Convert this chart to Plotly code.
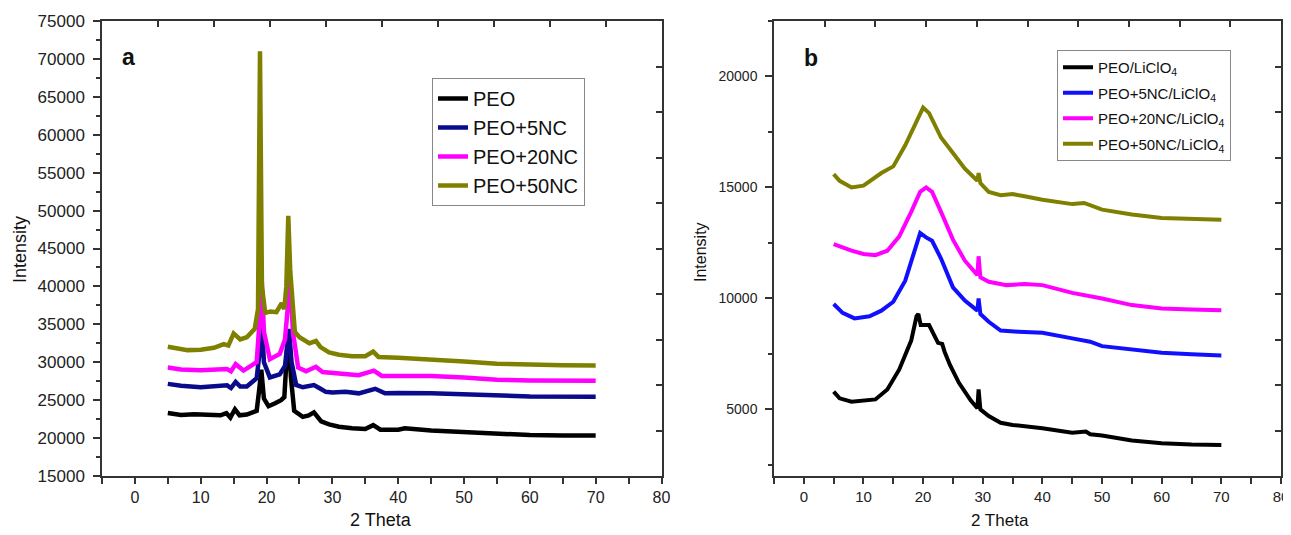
import plotly.graph_objects as go

# ---- panel a : XRD de PEO y nanocompuestos ----
peo_x = [5, 7, 9, 11, 13, 13.9, 14.5, 15.2, 15.9, 17, 18.5, 18.9, 19.2, 19.6, 20.3, 21.3, 22.2, 22.7,
         23.0, 23.3, 23.7, 24.2, 25.5, 26.4, 27.2, 28.3, 29.5, 31, 33, 35, 36.2, 37.3, 40, 41, 45, 50, 55, 60, 65, 70]
peo_y = [23300, 23050, 23150, 23050, 23000, 23300, 22700, 23800, 23000, 23100, 23600, 26500, 29000, 25200, 24200, 24600, 25000, 25400,
         29000, 34300, 28000, 23600, 22800, 23000, 23400, 22200, 21800, 21500, 21300, 21200, 21700, 21100, 21100, 21300, 21000, 20800, 20500, 20400, 20350, 20350]

nc5_x = [5, 7, 10, 13, 14, 14.6, 15.3, 16, 17, 18.5, 18.9, 19.2, 19.6, 20.5, 22, 22.8, 23.1, 23.4, 23.8, 24.5,
         25.5, 27.2, 28.2, 29, 30, 32, 34, 36.5, 38, 40, 45, 50, 55, 60, 70]
nc5_y = [27150, 26900, 26700, 26800, 26950, 26600, 27400, 26800, 26800, 27900, 31000, 36600, 30000, 28000, 28400, 29500, 32000, 34400, 30000, 27000,
         26700, 27000, 26500, 26100, 26000, 26100, 25900, 26500, 25900, 25950, 25900, 25800, 25600, 25500, 25450]

nc20_x = [5, 7, 10, 13, 14, 14.6, 15.3, 16.5, 18.5, 18.9, 19.2, 19.6, 20.5, 22, 22.8, 23.2, 23.6, 24.0, 24.8,
          26, 27.5, 28.5, 30, 32, 34, 36.3, 37.5, 40, 45, 50, 55, 60, 70]
nc20_y = [29300, 29050, 28950, 29000, 29100, 28800, 29750, 28900, 30000, 35000, 42300, 34000, 30400, 31100, 33000, 37000, 40900, 34000, 29300,
          28800, 29400, 28700, 28600, 28400, 28300, 28900, 28200, 28200, 28200, 28000, 27700, 27600, 27550]

nc50_x = [5, 6.5, 8, 10, 12, 13.5, 14.2, 15, 16, 17, 18.2, 18.7, 19.0, 19.3, 19.8, 20.6, 21.5, 22.3, 22.7, 23.0,
          23.3, 23.6, 24.3, 25, 26.5, 27.5, 28.2, 29.5, 31, 33, 35, 36.2, 37, 40, 45, 50, 55, 60, 65, 70]
nc50_y = [32050, 31800, 31600, 31650, 31900, 32400, 32200, 33800, 33000, 33300, 34400, 37000, 71000, 40000, 36500, 36700, 36600, 37800, 37000, 40000,
          49300, 42000, 34000, 33300, 32500, 32800, 32000, 31300, 31000, 30800, 30800, 31400, 30700, 30600, 30400, 30100, 29800, 29650, 29600, 29580]

# ---- panel b : con LiClO4 ----
li_x = [5, 6, 8, 10, 12, 14, 16, 18, 18.9, 19.2, 19.6, 21, 22.5, 23.2, 23.6, 24.5, 26, 28, 29.1, 29.3, 29.6,
        31, 33, 35, 40, 45, 47.3, 48, 50, 55, 60, 65, 70]
li_y = [5800, 5500, 5350, 5400, 5450, 5900, 6800, 8100, 9200, 9300, 8800, 8800, 8000, 7950, 7600, 7000, 6200, 5400, 5050, 5900, 5000,
        4700, 4400, 4300, 4150, 3950, 4000, 3880, 3820, 3600, 3480, 3420, 3400]

li5_x = [5, 6.5, 8.5, 11, 13, 15, 17, 18.5, 19.5, 20.5, 21.5, 23, 25, 27, 29.1, 29.3, 29.6, 31, 33, 36, 40, 45, 48, 50, 55, 60, 65, 70]
li5_y = [9750, 9350, 9100, 9200, 9450, 9850, 10800, 12100, 12950, 12750, 12600, 11800, 10500, 9900, 9450, 10000, 9300, 8950, 8550, 8500, 8450, 8200, 8050, 7850, 7700, 7550, 7480, 7430]

li20_x = [5, 8, 10, 12, 14, 16, 18, 19.5, 20.5, 21.5, 23, 25, 27, 29.1, 29.3, 29.6, 31, 34, 37, 40, 45, 50, 55, 60, 65, 70]
li20_y = [12450, 12150, 12000, 11950, 12150, 12800, 13900, 14800, 15000, 14800, 13900, 12650, 11700, 11050, 11900, 10950, 10750, 10600, 10650, 10600, 10250, 10000, 9700, 9550, 9500, 9470]

li50_x = [5, 6, 8, 10, 13, 15, 17, 19, 20, 21, 23, 25, 27, 29.1, 29.3, 29.6, 31, 33, 35, 37, 40, 45, 47, 50, 55, 60, 65, 70]
li50_y = [15600, 15300, 15000, 15080, 15650, 15950, 16900, 18100, 18600, 18350, 17250, 16550, 15850, 15300, 15650, 15200, 14800, 14650, 14700, 14600, 14450, 14250, 14300, 14000, 13780, 13620, 13570, 13550]

labels_a = ["PEO", "PEO+5NC", "PEO+20NC", "PEO+50NC"]
colors_a = ["#000000", "#0a0a8c", "#ff00ff", "#808000"]
labels_b = ["PEO/LiClO<sub>4</sub>", "PEO+5NC/LiClO<sub>4</sub>", "PEO+20NC/LiClO<sub>4</sub>", "PEO+50NC/LiClO<sub>4</sub>"]
colors_b = ["#000000", "#1010ff", "#ff00ff", "#808000"]

# ticks del eje x: cada 5, etiqueta sólo cada 10
x_ticks = list(range(-5, 81, 5))
x_text = [str(v) if v % 10 == 0 else "" for v in x_ticks]

FONT = "Liberation Sans, Arial, sans-serif"
AX = "#333333"

# la página html deja ~8 px de margen: se trabaja en coordenadas de la captura menos ese margen
OFF = 8
W, H = 1291 - OFF, 535 - OFF

def px(x):
    return (x - OFF) / W

def py(y):
    return 1 - (y - OFF) / H

fig = go.Figure()

series_a = [(peo_x, peo_y), (nc5_x, nc5_y), (nc20_x, nc20_y), (nc50_x, nc50_y)]
for i, ((xs, ys), name, col) in enumerate(zip(series_a, labels_a, colors_a)):
    fig.add_trace(go.Scatter(x=xs, y=ys, mode="lines", name=name, line=dict(color=col, width=4.5),
                             xaxis="x", yaxis="y", legend="legend", legendgroup="a%d" % i))

series_b = [(li_x, li_y), (li5_x, li5_y), (li20_x, li20_y), (li50_x, li50_y)]
for i, ((xs, ys), name, col) in enumerate(zip(series_b, labels_b, colors_b)):
    fig.add_trace(go.Scatter(x=xs, y=ys, mode="lines", name=name, line=dict(color=col, width=4),
                             xaxis="x2", yaxis="y2", legend="legend2", legendgroup="b%d" % i))

# trazas auxiliares (blancas, en zona vacía) para los ejes de ticks interiores (arriba / derecha)
dummy = [("x3", "y", [9.4, 9.6], [72000, 72000]),
         ("x", "y3", [76, 76], [9.3, 9.5]),
         ("x4", "y2", [9.4, 9.6], [21800, 21800]),
         ("x2", "y4", [76, 76], [9.3, 9.5])]
for xa, ya, dx, dy in dummy:
    fig.add_trace(go.Scatter(x=dx, y=dy, xaxis=xa, yaxis=ya, line=dict(width=0),
                             marker=dict(size=1, color="white"), showlegend=False))

dom_a = [px(102), px(661.5)]
dom_b = [px(774), px(1281)]
dom_y = [py(476), py(21)]

def xax(dom, anchor, size):
    return dict(domain=dom, anchor=anchor, range=[-5, 80], tickmode="array", tickvals=x_ticks, ticktext=x_text,
                ticks="outside", ticklen=6, tickwidth=1.5, tickcolor=AX, showline=True, linecolor=AX,
                linewidth=1.5, mirror=True, showgrid=False, zeroline=False, automargin=False,
                tickfont=dict(family=FONT, size=size, color="#222"))

def yax(dom, anchor, rng, size):
    return dict(domain=dom, anchor=anchor, range=rng, tick0=0, dtick=5000, ticks="outside", ticklen=7,
                tickwidth=1.5, tickcolor=AX, showline=True, linecolor=AX, linewidth=1.5, mirror=True,
                showgrid=False, zeroline=False, tickformat="d", automargin=False, ticklabelstandoff=5,
                tickfont=dict(family=FONT, size=size, color="#222"),
                minor=dict(dtick=2500, ticks="outside", ticklen=4, tickwidth=1.5, tickcolor=AX))

def inner(side, anchor, overlay):
    return dict(overlaying=overlay, anchor=anchor, side=side, range=[0, 10], dtick=1,
                ticks="inside", ticklen=6, tickwidth=1.5, tickcolor=AX, showticklabels=False,
                showgrid=False)

fig.update_layout(
    width=W, height=H,
    margin=dict(l=0, r=0, t=0, b=0),
    plot_bgcolor="white", paper_bgcolor="white",
    showlegend=True,
    xaxis=xax(dom_a, "y", 16),
    yaxis=yax(dom_y, "x", [15000, 75000], 17),
    xaxis2=xax(dom_b, "y2", 15),
    yaxis2=yax(dom_y, "x2", [2000, 22500], 14),
    xaxis3=inner("top", "y", "x"),
    yaxis3=inner("right", "x", "y"),
    xaxis4=inner("top", "y2", "x2"),
    yaxis4=inner("right", "x2", "y2"),
    legend=dict(x=px(432), y=py(78), xanchor="left", yanchor="top",
                bordercolor="#888", borderwidth=1, bgcolor="white", tracegroupgap=0,
                font=dict(family=FONT, size=20, color="#111")),
    legend2=dict(x=px(1057), y=py(50), xanchor="left", yanchor="top",
                 bordercolor="#888", borderwidth=1, bgcolor="white", tracegroupgap=3,
                 font=dict(family=FONT, size=15, color="#111")),
)

ann = [
    dict(text="<b>a</b>", x=128, y=57, size=23, angle=0),
    dict(text="<b>b</b>", x=811, y=58, size=23, angle=0),
    dict(text="2 Theta", x=381, y=520, size=18, angle=0),
    dict(text="2 Theta", x=1000, y=520, size=17, angle=0),
    dict(text="Intensity", x=20, y=250, size=18, angle=-90),
    dict(text="Intensity", x=700, y=252, size=16, angle=-90),
]
for a in ann:
    fig.add_annotation(text=a["text"], x=px(a["x"]), y=py(a["y"]), xref="paper", yref="paper",
                       showarrow=False, xanchor="center", yanchor="middle", textangle=a["angle"],
                       font=dict(family=FONT, size=a["size"], color="#111"))

fig.write_html("out.html")
